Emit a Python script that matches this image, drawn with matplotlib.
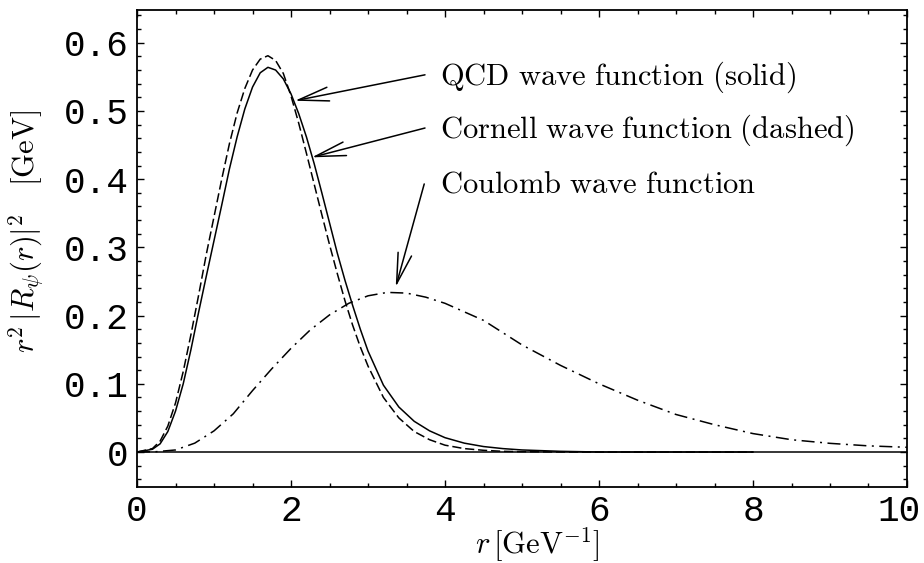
import numpy as np
import matplotlib
matplotlib.use('Agg')
import matplotlib.pyplot as plt
import matplotlib.transforms as mtransforms
from matplotlib.ticker import MultipleLocator, FuncFormatter

plt.rcParams['mathtext.fontset'] = 'cm'

# QCD wave function (solid)
r_qcd = [0, 0.2, 0.3, 0.4, 0.5, 0.6, 0.7, 0.8, 0.9, 1.0, 1.1, 1.2, 1.3, 1.4, 1.5, 1.6, 1.7, 1.8, 1.9, 2.0,
         2.1, 2.2, 2.3, 2.4, 2.5, 2.6, 2.7, 2.8, 2.9, 3.0, 3.2, 3.4, 3.6, 3.8, 4.0, 4.25, 4.5, 4.75, 5.0,
         5.5, 6.0, 7.0, 8.0]
v_qcd = [0, 0.004, 0.012, 0.030, 0.060, 0.100, 0.150, 0.205, 0.258, 0.310, 0.362, 0.415, 0.462, 0.503,
         0.535, 0.556, 0.564, 0.560, 0.547, 0.525, 0.496, 0.462, 0.423, 0.380, 0.336, 0.292, 0.252, 0.215,
         0.180, 0.148, 0.098, 0.066, 0.045, 0.031, 0.021, 0.013, 0.008, 0.005, 0.003, 0.001, 0.0, 0.0, 0.0]

# Cornell wave function (dashed)
r_cor = [0, 0.2, 0.3, 0.4, 0.5, 0.6, 0.7, 0.8, 0.9, 1.0, 1.1, 1.2, 1.3, 1.4, 1.5, 1.6, 1.7, 1.8, 1.9, 2.0,
         2.1, 2.2, 2.3, 2.4, 2.5, 2.6, 2.7, 2.8, 2.9, 3.0, 3.2, 3.4, 3.6, 3.8, 4.0, 4.25, 4.5, 4.75, 5.0,
         5.5, 6.0, 7.0, 8.0]
v_cor = [0, 0.005, 0.016, 0.038, 0.072, 0.118, 0.172, 0.230, 0.290, 0.345, 0.400, 0.452, 0.497, 0.533,
         0.560, 0.576, 0.581, 0.574, 0.555, 0.522, 0.482, 0.438, 0.393, 0.348, 0.304, 0.262, 0.222, 0.186,
         0.154, 0.126, 0.080, 0.050, 0.030, 0.018, 0.010, 0.005, 0.0025, 0.001, 0.0005, 0.0, 0.0, 0.0, 0.0]

# Coulomb wave function (dash-dot)
r_cou = [0, 0.25, 0.5, 0.75, 1.0, 1.25, 1.5, 1.75, 2.0, 2.25, 2.5, 2.75, 3.0, 3.25, 3.5, 3.75, 4.0, 4.5,
         5.0, 5.5, 6.0, 6.5, 7.0, 7.5, 8.0, 8.5, 9.0, 9.5, 10.0]
v_cou = [0, 0.0005, 0.003, 0.013, 0.031, 0.056, 0.090, 0.122, 0.152, 0.179, 0.201, 0.218, 0.229, 0.234,
         0.233, 0.227, 0.218, 0.193, 0.157, 0.127, 0.100, 0.076, 0.055, 0.040, 0.027, 0.018, 0.0127,
         0.009, 0.0069]

x_ticks = [0, 2, 4, 6, 8, 10]
y_ticks = [0, 0.1, 0.2, 0.3, 0.4, 0.5, 0.6]

labels = ['QCD wave function (solid)', 'Cornell wave function (dashed)', 'Coulomb wave function']
label_pos = [(3.935, 0.539), (3.935, 0.461), (3.935, 0.380)]
arrow_tail = [(3.74, 0.553), (3.74, 0.475), (3.73, 0.393)]
arrow_head = [(2.05, 0.515), (2.27, 0.432), (3.36, 0.242)]

fig = plt.figure(figsize=(9.24, 5.63), dpi=100)
ax = fig.add_axes([0.1483, 0.135, 0.8333, 0.8472])

ax.axhline(0, color='black', lw=1.1)
ax.plot(r_qcd, v_qcd, color='black', lw=1.1)
ax.plot(r_cor, v_cor, color='black', lw=1.1, ls=(0, (6, 2.5)))
ax.plot(r_cou, v_cou, color='black', lw=1.1, ls=(0, (8.5, 3.6, 1.3, 3.6)))

for txt, (tx, ty), tail, head in zip(labels, label_pos, arrow_tail, arrow_head):
    ax.text(tx, ty, r'$\mathrm{' + txt.replace(' ', r'\ ') + '}$', fontsize=22,
            ha='left', va='baseline')
    ax.annotate('', xy=head, xytext=tail,
                arrowprops=dict(arrowstyle='->,head_length=2.2,head_width=0.5',
                                mutation_scale=10, lw=1.1, color='black',
                                shrinkA=0, shrinkB=0))

ax.set_xlim(0, 10)
ax.set_ylim(-0.0513, 0.648)
ax.set_xticks(x_ticks)
ax.set_yticks(y_ticks)
ax.xaxis.set_minor_locator(MultipleLocator(0.5))
ax.yaxis.set_minor_locator(MultipleLocator(0.02))
ax.set_xticklabels(['%d' % t for t in x_ticks])
ax.set_yticklabels(['0' if t == 0 else '%.1f' % t for t in y_ticks])

ax.tick_params(which='both', direction='in', top=True, right=True, width=1.0)
ax.tick_params(which='major', length=5)
ax.tick_params(which='minor', length=2.7)
ax.tick_params(axis='x', pad=5)
ax.tick_params(axis='y', pad=6)
for lab in ax.get_xticklabels() + ax.get_yticklabels():
    lab.set_family('Liberation Mono')
    lab.set_fontsize(26)

# keep the "10" inside the figure
last = ax.get_xticklabels()[-1]
shift = mtransforms.ScaledTranslation(-6 / 72, 0, fig.dpi_scale_trans)
last.set_transform(last.get_transform() + shift)

for s in ax.spines.values():
    s.set_linewidth(1.3)

ax.set_xlabel(r'$r\,[\mathrm{GeV}^{-1}]$', fontsize=22)
ax.set_ylabel(r'$r^2\,|R_\psi(r)|^2\quad[\mathrm{GeV}]$', fontsize=22)
ax.xaxis.set_label_coords(0.52, -0.08)
ax.yaxis.set_label_coords(-0.118, 0.536)

fig.savefig('out.png', dpi=100)
